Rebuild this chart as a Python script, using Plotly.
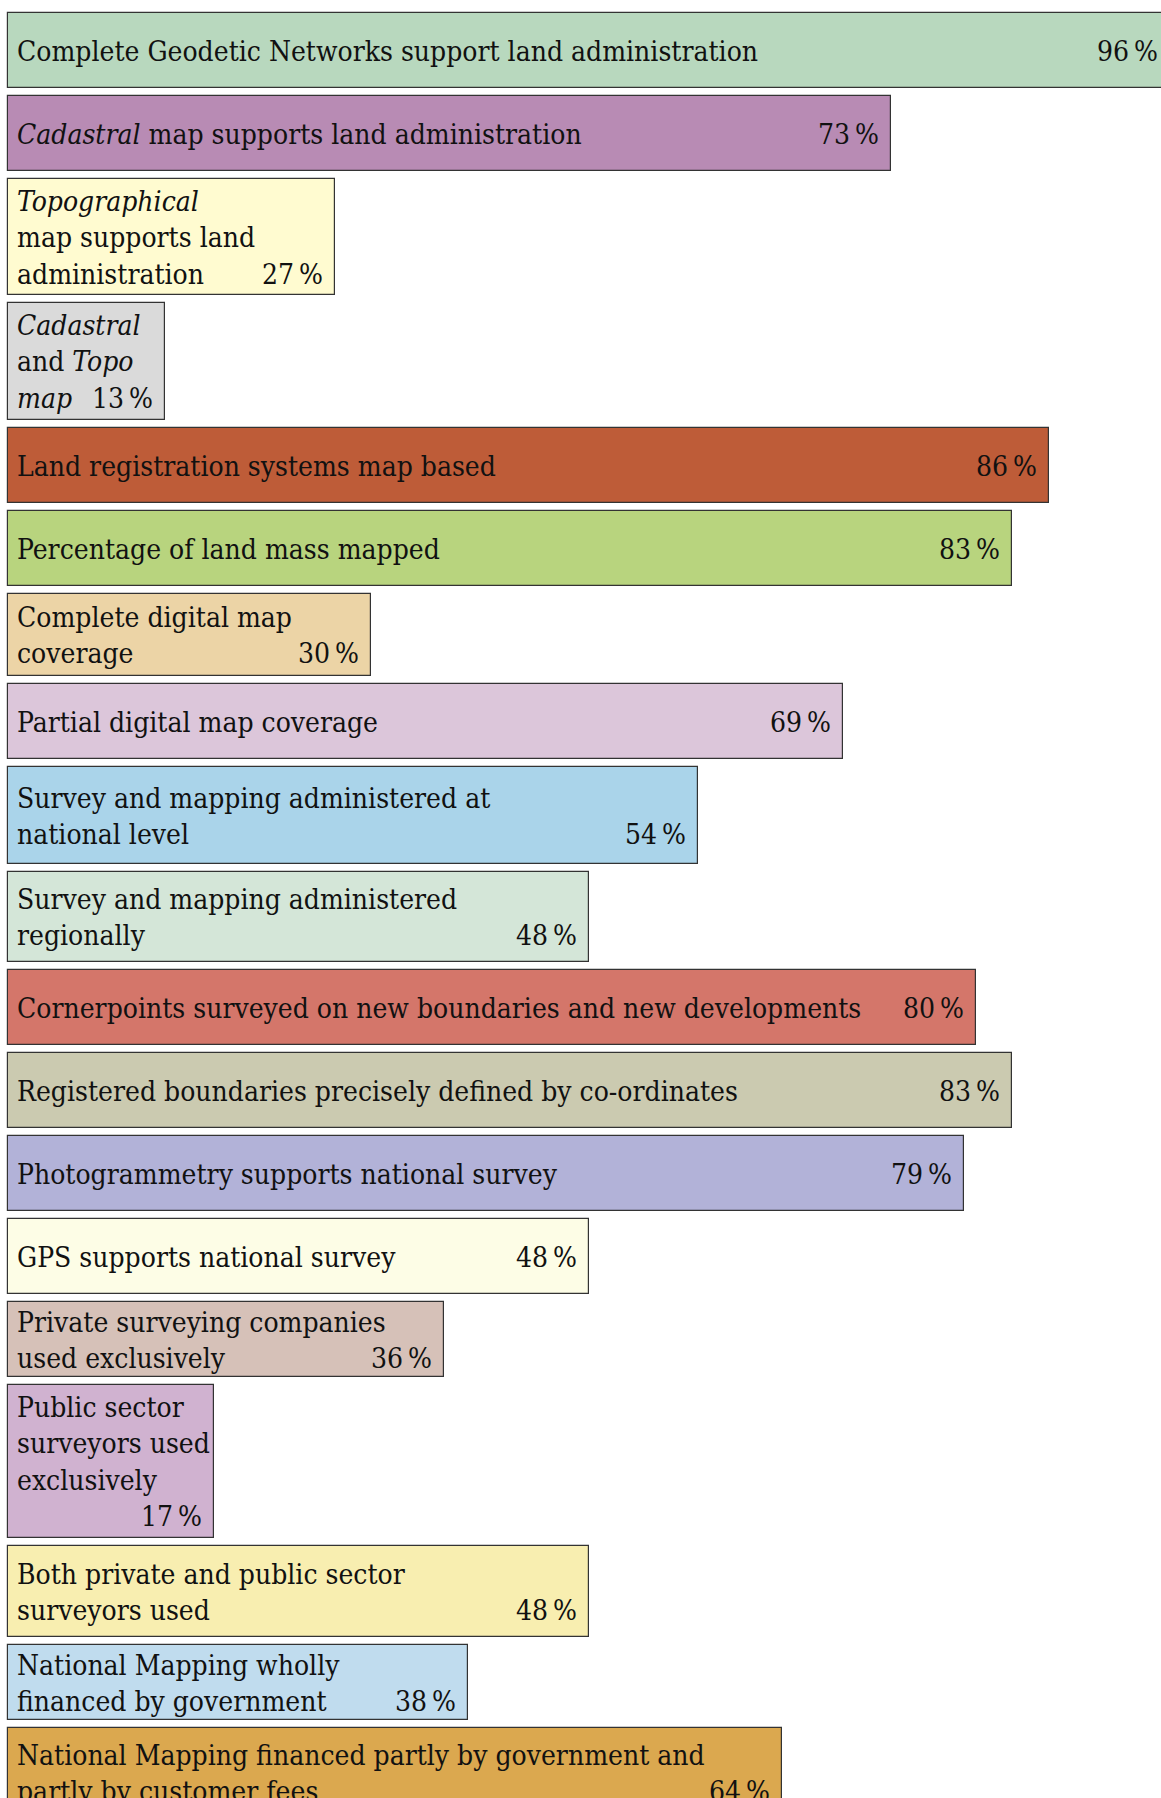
import plotly.graph_objects as go

# ---- data ----
labels = [
    "Complete Geodetic Networks support land administration",
    "<i>Cadastral</i> map supports land administration",
    "<i>Topographical</i><br>map supports land<br>administration",
    "<i>Cadastral</i><br>and <i>Topo</i><br><i>map</i>",
    "Land registration systems map based",
    "Percentage of land mass mapped",
    "Complete digital map<br>coverage",
    "Partial digital map coverage",
    "Survey and mapping administered at<br>national level",
    "Survey and mapping administered<br>regionally",
    "Cornerpoints surveyed on new boundaries and new developments",
    "Registered boundaries precisely defined by co-ordinates",
    "Photogrammetry supports national survey",
    "GPS supports national survey",
    "Private surveying companies<br>used exclusively",
    "Public sector<br>surveyors used<br>exclusively<br>\u00a0",
    "Both private and public sector<br>surveyors used",
    "National Mapping wholly<br>financed by government",
    "National Mapping financed partly by government and<br>partly by customer fees",
]
bar_lengths = [96, 73, 27, 13, 86, 83, 30, 69, 57, 48, 80, 83, 79, 48, 36, 17, 48, 38, 64]
pct_values = [96, 73, 27, 13, 86, 83, 30, 69, 54, 48, 80, 83, 79, 48, 36, 17, 48, 38, 64]

# ---- style / layout ----
colors = [
    "#b8d8be", "#b88bb4", "#fffbd0", "#dadada", "#be5c38", "#b8d47e",
    "#ecd4a6", "#dcc6da", "#aad4ea", "#d4e6d8", "#d4766a", "#cbcab0",
    "#b2b2d8", "#fdfde6", "#d6c1b8", "#d0b2d0", "#f8eeb0", "#c0dcee",
    "#dba84f",
]
row_heights = [75, 75, 116, 117, 75, 75, 82, 75, 97, 90, 75, 75, 75, 75, 75, 153, 91, 75, 90]
gap = 8
start = 12.7
W, H = 1161, 1798
px_per_unit = 12.1
x0_px = 8
FONT = "DejaVu Serif Condensed, DejaVu Serif, serif"
FS = 28
LH = FS * 1.3

x_min = -x0_px / px_per_unit
x_max = (W - x0_px) / px_per_unit

centers = []
y = start
for h in row_heights:
    centers.append(y + h / 2)
    y += h + gap

fig = go.Figure(go.Bar(
    x=bar_lengths,
    y=centers,
    width=row_heights,
    orientation="h",
    marker=dict(color=colors, line=dict(color="#333333", width=1.2)),
    hoverinfo="skip",
))

anns = []
for lab, val, pv, c in zip(labels, bar_lengths, pct_values, centers):
    n = lab.count("<br>") + 1
    anns.append(dict(
        x=0, y=c, xref="x", yref="y", text=lab, showarrow=False,
        xanchor="left", yanchor="middle", align="left", xshift=7, yshift=-1,
        font=dict(family=FONT, size=FS, color="#111111"),
    ))
    xa = min(val, x_max - 0.01)
    anns.append(dict(
        x=xa, y=c + (n - 1) * LH / 2, xref="x", yref="y",
        text=f"{pv}\u2009%", showarrow=False,
        xanchor="right", yanchor="middle", align="right",
        xshift=-10 + (val - xa) * px_per_unit, yshift=-1,
        font=dict(family=FONT, size=FS, color="#111111"),
    ))

fig.update_layout(
    width=W, height=H,
    margin=dict(l=0, r=0, t=0, b=0),
    paper_bgcolor="white", plot_bgcolor="white",
    showlegend=False,
    xaxis=dict(range=[x_min, x_max], visible=False, fixedrange=True),
    yaxis=dict(range=[H, 0], visible=False, fixedrange=True),
    annotations=anns,
    bargap=0,
)

fig.write_html("out.html", config={"displayModeBar": False})
